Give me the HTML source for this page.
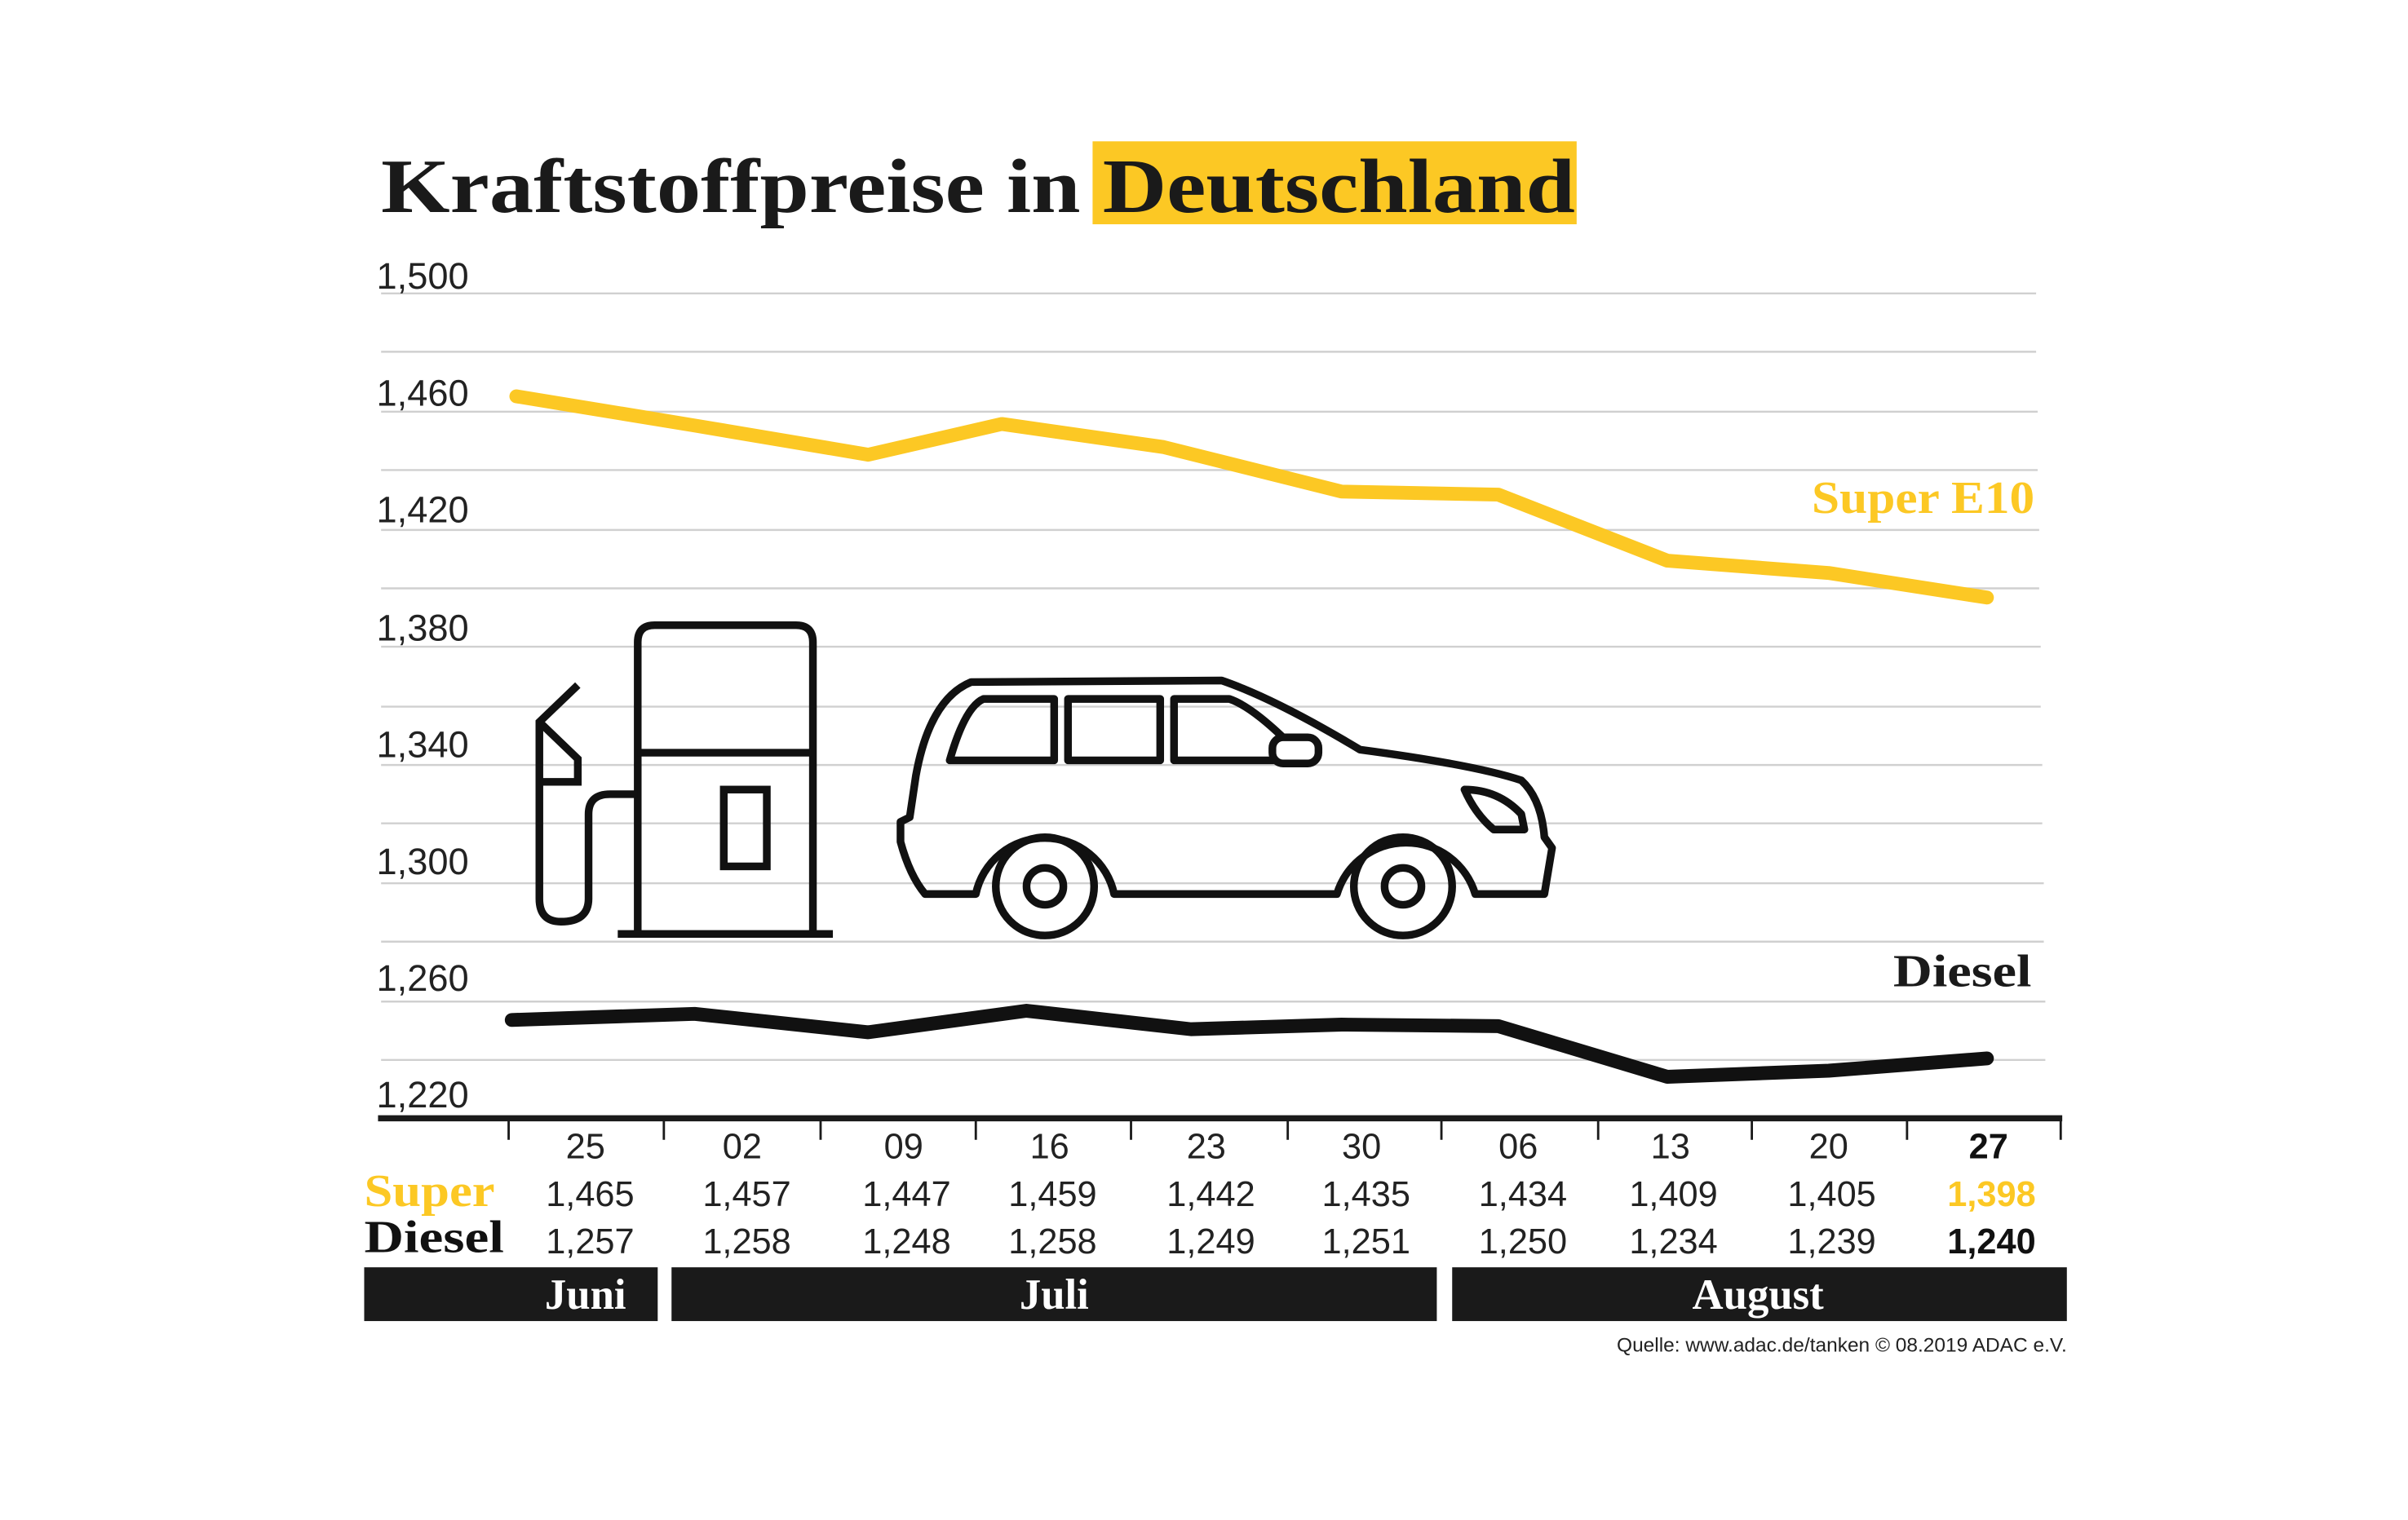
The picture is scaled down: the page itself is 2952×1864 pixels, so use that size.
<!DOCTYPE html>
<html><head><meta charset="utf-8"><style>
html,body{margin:0;padding:0;background:#fff;}
svg{display:block;}
</style></head><body>
<svg width="2952" height="1864" viewBox="0 0 1567 989.5" preserveAspectRatio="none" xmlns="http://www.w3.org/2000/svg">
<rect width="1567" height="990" fill="#fff"/>
<!-- title -->
<rect x="711" y="92" width="315" height="54" fill="#fcc824"/>
<text x="248" y="138" font-family="Liberation Serif, serif" font-weight="bold" font-size="50" fill="#1a1a1a" textLength="777" lengthAdjust="spacingAndGlyphs">Kraftstoffpreise in Deutschland</text>
<!-- gridlines -->
<g stroke="#d0d0d0" stroke-width="1.3">
<line x1="248" y1="191" x2="1325" y2="191"/>
<line x1="248" y1="229" x2="1325" y2="229"/>
<line x1="248" y1="268" x2="1326" y2="268"/>
<line x1="248" y1="306" x2="1326" y2="306"/>
<line x1="248" y1="345" x2="1327" y2="345"/>
<line x1="248" y1="383" x2="1327" y2="383"/>
<line x1="248" y1="421" x2="1328" y2="421"/>
<line x1="248" y1="460" x2="1328" y2="460"/>
<line x1="248" y1="498" x2="1329" y2="498"/>
<line x1="248" y1="536" x2="1329" y2="536"/>
<line x1="248" y1="575" x2="1330" y2="575"/>
<line x1="248" y1="613" x2="1330" y2="613"/>
<line x1="248" y1="652" x2="1331" y2="652"/>
<line x1="248" y1="690" x2="1331" y2="690"/>
</g>
<g font-family="Liberation Sans, sans-serif" font-size="24" fill="#222" font-weight="300">
<text x="245" y="188">1,500</text>
<text x="245" y="264">1,460</text>
<text x="245" y="340">1,420</text>
<text x="245" y="417">1,380</text>
<text x="245" y="493">1,340</text>
<text x="245" y="569">1,300</text>
<text x="245" y="645">1,260</text>
<text x="245" y="721">1,220</text>
</g>
<!-- axis -->
<line x1="246" y1="728" x2="1342" y2="728" stroke="#1a1a1a" stroke-width="4"/>
<g stroke="#1a1a1a" stroke-width="1.5">
<line x1="331" y1="728" x2="331" y2="742"/><line x1="432" y1="728" x2="432" y2="742"/>
<line x1="534" y1="728" x2="534" y2="742"/><line x1="635" y1="728" x2="635" y2="742"/>
<line x1="736" y1="728" x2="736" y2="742"/><line x1="838" y1="728" x2="838" y2="742"/>
<line x1="938" y1="728" x2="938" y2="742"/><line x1="1040" y1="728" x2="1040" y2="742"/>
<line x1="1140" y1="728" x2="1140" y2="742"/><line x1="1241" y1="728" x2="1241" y2="742"/>
<line x1="1341" y1="728" x2="1341" y2="742"/>
</g>
<!-- series -->
<polyline fill="none" stroke="#fcc824" stroke-width="9" stroke-linejoin="round" stroke-linecap="round" points="336,258 452,277 565,296 652,276 757,291 873,320 975,322 1085,365 1190,373 1293,389"/>
<polyline fill="none" stroke="#111" stroke-width="9" stroke-linejoin="round" stroke-linecap="round" points="333,664 452,660 565,672 668,658 775,670 873,667 975,668 1085,701 1190,697 1293,689"/>
<text x="1179" y="334" font-family="Liberation Serif, serif" font-weight="bold" font-size="30" fill="#fcc824" textLength="145" lengthAdjust="spacingAndGlyphs">Super E10</text>
<text x="1232" y="642" font-family="Liberation Serif, serif" font-weight="bold" font-size="30" fill="#1a1a1a" textLength="90" lengthAdjust="spacingAndGlyphs">Diesel</text>
<!-- pump -->
<g fill="none" stroke="#111" stroke-width="5">
<path d="M415,607 L415,418 Q415,407 426,407 L518,407 Q529,407 529,418 L529,607"/>
<line x1="415" y1="490" x2="529" y2="490"/>
<rect x="471" y="514" width="28" height="50"/>
<line x1="402" y1="608" x2="542" y2="608"/>
<path d="M376,446 L351,470 L351,585 Q351,600 365,600 Q383,600 383,585 L383,530 Q383,517 397,517 L415,517"/>
<path d="M351,470 L376,494 L376,509 L351,509"/>
</g>
<!-- car -->
<g fill="none" stroke="#111" stroke-width="5" stroke-linejoin="round">
<path d="M635,582 L602,582 Q592,570 586,548 L586,535 L592,532 L596,505 Q605,455 632,444 L795,443 Q830,455 885,488 Q960,498 990,508 Q1003,520 1005,545 L1010,552 L1005,582 L960,582 A47,47 0 0 0 870,582 L725,582 A46,46 0 0 0 635,582 Z"/>
<circle cx="680" cy="577" r="32"/><circle cx="680" cy="577" r="12"/>
<circle cx="913" cy="577" r="32"/><circle cx="913" cy="577" r="12"/>
<path d="M618,495 Q628,460 640,455 L686,455 L686,495 Z"/>
<rect x="695" y="455" width="60" height="40"/>
<path d="M764,455 L800,455 Q815,460 840,485 L840,495 L764,495 Z"/>
<rect x="828" y="480" width="30" height="17" rx="7" fill="#fff"/>
<path d="M953,514 Q975,514 990,530 L992,540 L972,540 Q960,530 953,514 Z"/>
</g>
<!-- table -->
<g font-family="Liberation Sans, sans-serif" font-size="23" fill="#222" text-anchor="middle">
<text x="381" y="754">25</text><text x="483" y="754">02</text><text x="588" y="754">09</text><text x="683" y="754">16</text><text x="785" y="754">23</text><text x="886" y="754">30</text><text x="988" y="754">06</text><text x="1087" y="754">13</text><text x="1190" y="754">20</text><text x="1294" y="754" font-weight="bold" fill="#111">27</text>
<text x="384" y="785">1,465</text><text x="486" y="785">1,457</text><text x="590" y="785">1,447</text><text x="685" y="785">1,459</text><text x="788" y="785">1,442</text><text x="889" y="785">1,435</text><text x="991" y="785">1,434</text><text x="1089" y="785">1,409</text><text x="1192" y="785">1,405</text><text x="1296" y="785" font-weight="bold" fill="#fcc824">1,398</text>
<text x="384" y="816">1,257</text><text x="486" y="816">1,258</text><text x="590" y="816">1,248</text><text x="685" y="816">1,258</text><text x="788" y="816">1,249</text><text x="889" y="816">1,251</text><text x="991" y="816">1,250</text><text x="1089" y="816">1,234</text><text x="1192" y="816">1,239</text><text x="1296" y="816" font-weight="bold" fill="#111">1,240</text>
</g>
<text x="237" y="785" font-family="Liberation Serif, serif" font-weight="bold" font-size="30" fill="#fcc824" textLength="85" lengthAdjust="spacingAndGlyphs">Super</text>
<text x="237" y="815" font-family="Liberation Serif, serif" font-weight="bold" font-size="30" fill="#111" textLength="91" lengthAdjust="spacingAndGlyphs">Diesel</text>
<rect x="237" y="825" width="191" height="35" fill="#1a1a1a"/>
<rect x="437" y="825" width="498" height="35" fill="#1a1a1a"/>
<rect x="945" y="825" width="400" height="35" fill="#1a1a1a"/>
<g font-family="Liberation Serif, serif" font-weight="bold" font-size="28" fill="#fff" text-anchor="middle">
<text x="381" y="852">Juni</text><text x="686" y="852">Juli</text><text x="1144" y="852">August</text>
</g>
<text x="1345" y="880" text-anchor="end" font-family="Liberation Sans, sans-serif" font-size="13" fill="#222">Quelle: www.adac.de/tanken   © 08.2019  ADAC e.V.</text>
</svg>
</body></html>
